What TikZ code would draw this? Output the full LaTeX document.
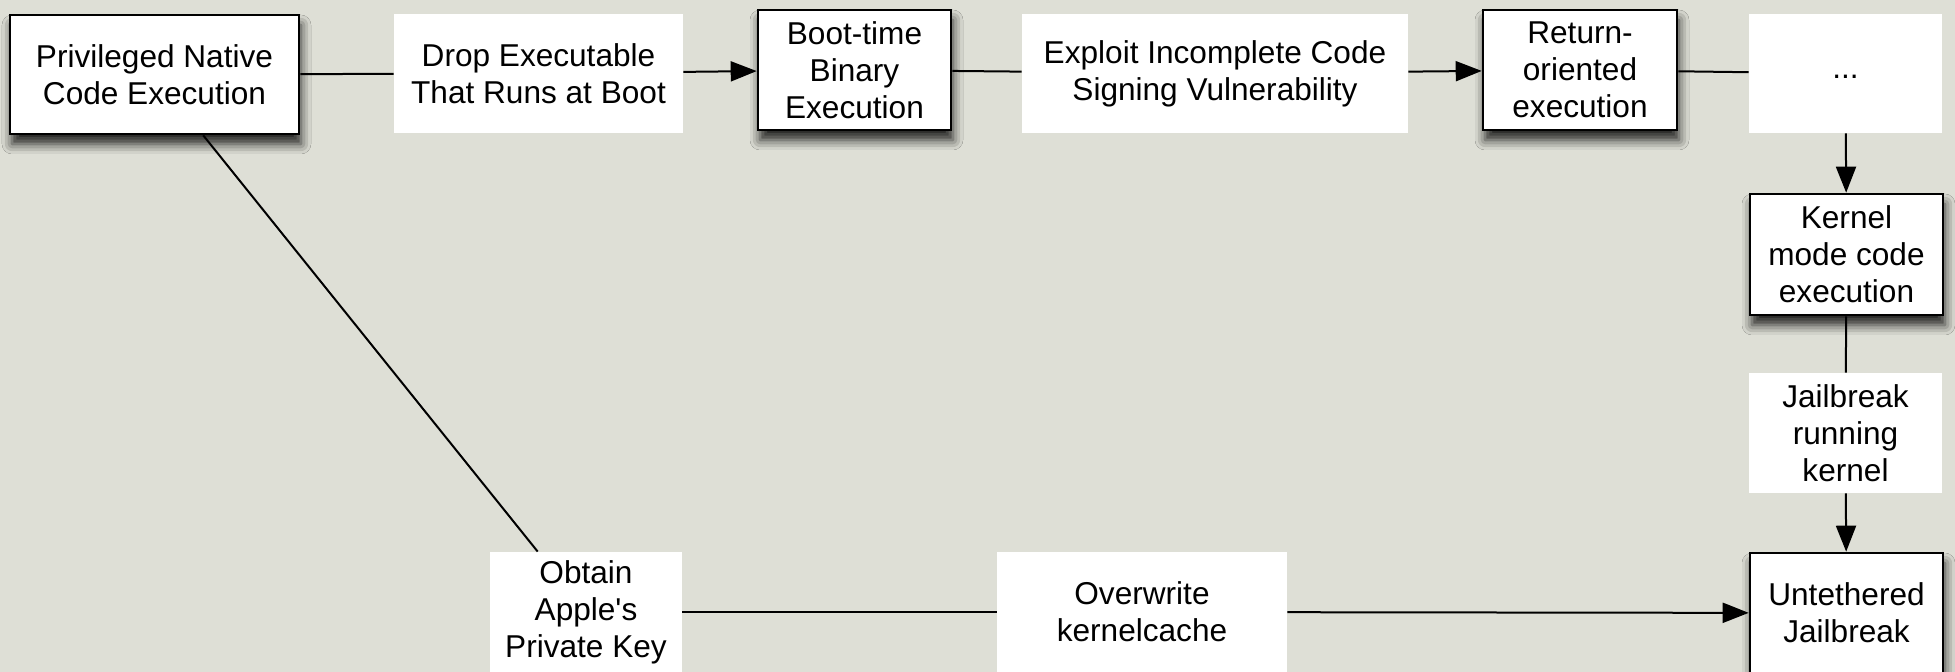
\documentclass[tikz,border=0pt]{standalone}
\usepackage{fontspec}
\setmainfont{Liberation Sans}
\usetikzlibrary{arrows.meta,shadows.blur}
\definecolor{bg}{RGB}{222,223,214}
\begin{document}
\begin{tikzpicture}[x=0.5pt,y=-0.5pt,
  base/.style={align=center,inner sep=0pt,fill=white,font=\fontsize{15.8}{18.5}\selectfont},
  boxed/.style={base,draw=black,line width=1.3pt,blur shadow={shadow xshift=1pt,shadow yshift=-5pt,shadow blur radius=5pt,shadow opacity=85}},
  plain/.style={base},
  conn/.style={line width=1pt},
  arr/.style={conn,-{Triangle[length=13pt,width=10pt]}}]
\fill[bg] (0,0) rectangle (1955,672);
\useasboundingbox (0,0) rectangle (1955,672);
\node[boxed,minimum width=144.5pt,minimum height=59.5pt] (priv) at (154.5,74.5) {Privileged Native\\Code Execution};
\node[plain,minimum width=144.5pt,minimum height=59.5pt] (drop) at (538.5,73.5) {Drop Executable\\That Runs at Boot};
\node[boxed,minimum width=96.5pt,minimum height=60pt] (boot) at (854.5,70) {Boot-time\\Binary\\Execution};
\node[plain,minimum width=193pt,minimum height=59.5pt] (expl) at (1215,73.5) {Exploit Incomplete Code\\Signing Vulnerability};
\node[boxed,minimum width=97pt,minimum height=60pt] (ret) at (1580,70) {Return-\\oriented\\execution};
\node[plain,minimum width=96.5pt,minimum height=59.5pt] (dots) at (1845.5,73.5) {\rule{0pt}{5pt}...};
\node[boxed,minimum width=96.5pt,minimum height=60.5pt] (kern) at (1846.5,254.5) {Kernel\\mode code\\execution};
\node[plain,minimum width=96.5pt,minimum height=60pt] (jrk) at (1845.5,433) {Jailbreak\\running\\kernel};
\node[boxed,minimum width=96.5pt,minimum height=60pt] (unt) at (1846.5,613) {Untethered\\Jailbreak};
\node[plain,minimum width=96pt,minimum height=60pt] (obt) at (586,612) {Obtain\\Apple\textquotesingle s\\Private Key};
\node[plain,minimum width=145pt,minimum height=60pt] (ovr) at (1142,612) {Overwrite\\kernelcache};
\draw[conn] (priv) -- (drop);
\draw[arr] (drop) -- (boot);
\draw[conn] (boot) -- (expl);
\draw[arr] (expl) -- (ret);
\draw[conn] (ret) -- (dots);
\draw[arr] (dots) -- (kern);
\draw[conn] (kern) -- (jrk);
\draw[arr] (jrk) -- (unt);
\draw[conn] (priv) -- (obt);
\draw[conn] (obt) -- (ovr);
\draw[arr] (ovr) -- (unt);
\end{tikzpicture}
\end{document}
